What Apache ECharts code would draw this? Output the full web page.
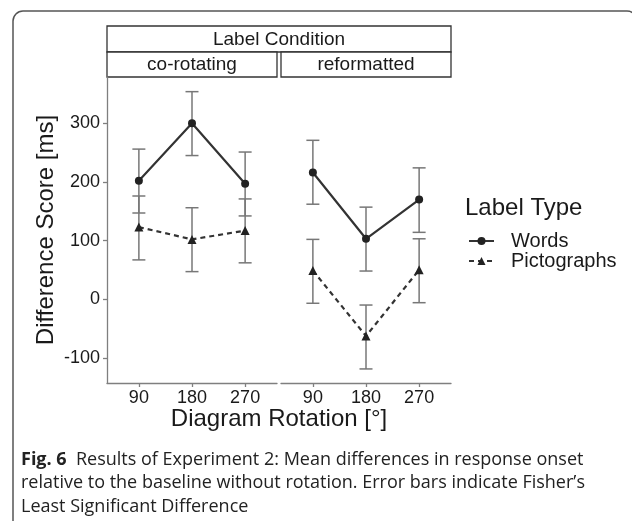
<!DOCTYPE html>
<html><head><meta charset="utf-8">
<script src="https://cdn.jsdelivr.net/npm/echarts@6/dist/echarts.min.js"></script>
<style>html,body{margin:0;padding:0;background:#fff}#c{width:632px;height:521px}</style>
</head><body><div id="c"></div>
<script>
// ---- data ----
const rotations = ['90', '180', '270'];
const panels = ['co-rotating', 'reformatted'];
const stripTitle = 'Label Condition';
const seriesNames = ['Words', 'Pictographs'];
const wordsMean = [[202, 300, 197], [216, 103, 170]];
const wordsLow  = [[147, 245, 142], [162, 48, 114]];
const wordsHigh = [[256, 354, 251], [271, 157, 224]];
const pictMean  = [[123, 102, 117], [49, -63, 50]];
const pictLow   = [[67, 47, 62], [-7, -119, -6]];
const pictHigh  = [[176, 156, 171], [102, -10, 103]];
const yTicks = [-100, 0, 100, 200, 300];
const xPos = [1, 2, 3];

const FONT = 'Liberation Sans';
const TXT = '#1a1a1a';
const AX = '#7f7f7f';

const chart = echarts.init(document.getElementById('c'), null, {renderer: 'canvas'});

const grids = [
  {left: 107, top: 77, width: 170, height: 306},
  {left: 281, top: 77, width: 170, height: 306}
];

const xAxes = grids.map((g, i) => ({
  type: 'value', gridIndex: i, min: 0.4, max: 3.6,
  axisLine: {show: true, onZero: false, lineStyle: {color: AX, width: 1.3}},
  axisTick: {show: true, customValues: xPos, length: 4, lineStyle: {color: AX, width: 1.3}},
  axisLabel: {show: true, customValues: xPos, formatter: v => rotations[Math.round(v) - 1],
    fontSize: 18, color: TXT, fontFamily: FONT, margin: 6},
  splitLine: {show: false}
}));

const yAxes = grids.map((g, i) => ({
  type: 'value', gridIndex: i, min: -143, max: 379,
  axisLine: {show: i === 0, onZero: false, lineStyle: {color: AX, width: 1.3}},
  axisTick: {show: i === 0, customValues: yTicks, length: 4, lineStyle: {color: AX, width: 1.3}},
  axisLabel: {show: i === 0, customValues: yTicks, fontSize: 18, color: TXT, fontFamily: FONT, margin: 7},
  splitLine: {show: false}
}));

function errSeries(i, low, high) {
  return {
    type: 'custom', xAxisIndex: i, yAxisIndex: i, z: 1, silent: true,
    data: xPos.map((x, k) => [x, low[i][k], high[i][k]]),
    renderItem: (params, api) => {
      const x = api.value(0);
      const lo = api.coord([x, api.value(1)]);
      const hi = api.coord([x, api.value(2)]);
      const hw = 6.5;
      const st = {stroke: '#777', lineWidth: 1.5};
      return {type: 'group', children: [
        {type: 'line', shape: {x1: lo[0], y1: lo[1], x2: hi[0], y2: hi[1]}, style: st},
        {type: 'line', shape: {x1: lo[0] - hw, y1: lo[1], x2: lo[0] + hw, y2: lo[1]}, style: st},
        {type: 'line', shape: {x1: hi[0] - hw, y1: hi[1], x2: hi[0] + hw, y2: hi[1]}, style: st}
      ]};
    }
  };
}

const series = [];
[0, 1].forEach(i => {
  series.push(errSeries(i, wordsLow, wordsHigh));
  series.push(errSeries(i, pictLow, pictHigh));
  series.push({
    name: seriesNames[0], type: 'line', xAxisIndex: i, yAxisIndex: i, z: 3,
    data: xPos.map((x, k) => [x, wordsMean[i][k]]),
    symbol: 'circle', symbolSize: 8,
    lineStyle: {color: '#333', width: 2.2},
    itemStyle: {color: '#222', borderWidth: 0},
    emphasis: {disabled: true}, animation: false
  });
  series.push({
    name: seriesNames[1], type: 'line', xAxisIndex: i, yAxisIndex: i, z: 3,
    data: xPos.map((x, k) => [x, pictMean[i][k]]),
    symbol: 'triangle', symbolSize: 9,
    lineStyle: {color: '#333', width: 2.2, type: [5, 4]},
    itemStyle: {color: '#222', borderWidth: 0},
    emphasis: {disabled: true}, animation: false
  });
});

const graphics = [
  {type: 'rect', shape: {x: 13, y: 11, width: 624, height: 540, r: 10},
   style: {fill: 'none', stroke: '#555', lineWidth: 1.5}, z: 0},
  {type: 'rect', shape: {x: 107, y: 26, width: 344, height: 26},
   style: {fill: '#fff', stroke: '#333', lineWidth: 1.3}},
  {type: 'text', x: 279, y: 39.5, style: {text: stripTitle, fontSize: 19, fontFamily: FONT, fill: TXT, align: 'center', verticalAlign: 'middle'}},
  {type: 'rect', shape: {x: 107, y: 52, width: 170, height: 25},
   style: {fill: '#fff', stroke: '#333', lineWidth: 1.3}},
  {type: 'text', x: 192, y: 65, style: {text: panels[0], fontSize: 19, fontFamily: FONT, fill: TXT, align: 'center', verticalAlign: 'middle'}},
  {type: 'rect', shape: {x: 281, y: 52, width: 170, height: 25},
   style: {fill: '#fff', stroke: '#333', lineWidth: 1.3}},
  {type: 'text', x: 366, y: 65, style: {text: panels[1], fontSize: 19, fontFamily: FONT, fill: TXT, align: 'center', verticalAlign: 'middle'}},
  {type: 'text', x: 46, y: 230, rotation: Math.PI / 2,
   style: {text: 'Difference Score [ms]', fontSize: 24, fontFamily: FONT, fill: TXT, align: 'center', verticalAlign: 'middle'}},
  {type: 'text', x: 279, y: 419,
   style: {text: 'Diagram Rotation [°]', fontSize: 24, fontFamily: FONT, fill: TXT, align: 'center', verticalAlign: 'middle'}},
  {type: 'text', x: 465, y: 208,
   style: {text: 'Label Type', fontSize: 24, fontFamily: FONT, fill: TXT, align: 'left', verticalAlign: 'middle'}},
  {type: 'text', x: 21, y: 448,
   style: {
     text: '{b|Fig. 6}  Results of Experiment 2: Mean differences in response onset\nrelative to the baseline without rotation. Error bars indicate Fisher’s\nLeast Significant Difference',
     fontSize: 18, fontFamily: 'Open Sans', fill: '#222', lineHeight: 23.5, align: 'left', verticalAlign: 'top',
     rich: {b: {fontWeight: 'bold', fontSize: 18, fontFamily: 'Open Sans', fill: '#222', lineHeight: 23.5}}
   }}
];

chart.setOption({
  animation: false,
  grid: grids,
  xAxis: xAxes,
  yAxis: yAxes,
  series: series,
  legend: {
    data: seriesNames, orient: 'vertical', left: 468, top: 231,
    itemWidth: 25, itemHeight: 10, itemGap: 0, padding: 0,
    textStyle: {fontSize: 20, lineHeight: 18, fontFamily: FONT, color: TXT, padding: [0, 0, 0, 12]},
    selectedMode: false
  },
  graphic: graphics
});
</script>
</body></html>
